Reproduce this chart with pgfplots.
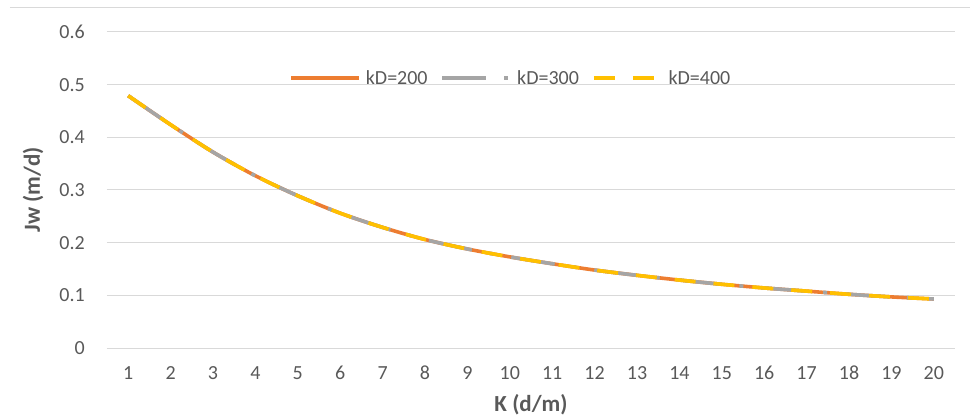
\documentclass[border=0pt]{standalone}
\usepackage{pgfplots}
\pgfplotsset{compat=1.18}
\usepackage{pgfplotstable}
\usepackage{fontspec}
\setmainfont{Carlito}
\definecolor{cor}{HTML}{ED7D31}
\definecolor{cgr}{HTML}{A5A5A5}
\definecolor{cye}{HTML}{FFC000}
\definecolor{txt}{HTML}{595959}
\definecolor{gridc}{HTML}{D9D9D9}

\pgfplotstableread{
K jw
1 0.479
2 0.424
3 0.372
4 0.327
5 0.289
6 0.256
7 0.229
8 0.206
9 0.188
10 0.173
11 0.160
12 0.148
13 0.138
14 0.129
15 0.121
16 0.114
17 0.108
18 0.102
19 0.097
20 0.093
}\dataA
\pgfplotstableread{
K jw
1 0.479
2 0.424
3 0.372
4 0.327
5 0.289
6 0.256
7 0.229
8 0.206
9 0.188
10 0.173
11 0.160
12 0.148
13 0.138
14 0.129
15 0.121
16 0.114
17 0.108
18 0.102
19 0.097
20 0.093
}\dataB
\pgfplotstableread{
K jw
1 0.479
2 0.424
3 0.372
4 0.327
5 0.289
6 0.256
7 0.229
8 0.206
9 0.188
10 0.173
11 0.160
12 0.148
13 0.138
14 0.129
15 0.121
16 0.114
17 0.108
18 0.102
19 0.097
20 0.093
}\dataC

\begin{document}
\begin{tikzpicture}
\begin{axis}[
  scale only axis,
  width=848bp, height=316bp,
  xmin=0.5, xmax=20.5, ymin=0, ymax=0.6,
  xtick={1,...,20},
  ytick={0,0.1,0.2,0.3,0.4,0.5,0.6},
  ymajorgrids,
  major grid style={gridc, line width=1bp},
  axis line style={draw=none},
  major tick style={draw=none},
  /pgf/number format/assume math mode=true,
  yticklabel style={/pgf/number format/fixed, /pgf/number format/precision=1},
  tick label style={font=\fontsize{20bp}{24bp}\selectfont, text=txt, inner sep=0pt},
  yticklabel shift=22bp,
  xticklabel shift=18bp,
  every axis y label/.style={at={(axis description cs:-0.0873,0.5)}, rotate=90, anchor=center},
  every axis x label/.style={at={(axis description cs:0.5,-0.18)}, anchor=center},
  label style={font=\bfseries\fontsize{23bp}{26bp}\selectfont, text=txt},
  xlabel={K (d/m)},
  ylabel={Jw (m/d)},
  legend columns=3,
  legend style={at={(axis description cs:0.475,0.854)}, anchor=center, draw=none, fill=none,
    font=\fontsize{20bp}{24bp}\selectfont, text=txt,
    nodes={inner sep=0pt},
    /tikz/every odd column/.append style={column sep=5bp},
    /tikz/every even column/.append style={column sep=13bp}},
  legend image code/.code={\draw[#1] (0bp,0bp) -- (68bp,0bp);},
]
\addplot[cor, line width=3.6bp, smooth] table[x=K, y=jw] {\dataA};
\addlegendentry{kD=200}
\addplot[cgr, line width=3.6bp, smooth, dash pattern=on 44bp off 18bp on 4bp off 18bp] table[x=K, y=jw] {\dataB};
\addlegendentry{kD=300}
\addplot[cye, line width=3.6bp, smooth, dash pattern=on 21bp off 18bp] table[x=K, y=jw] {\dataC};
\addlegendentry{kD=400}
\end{axis}
\draw[gridc, line width=1bp] ([shift={(-97bp,24bp)}]current axis.north west) -- ([shift={(15bp,24bp)}]current axis.north east);
\pgfresetboundingbox
\path[use as bounding box] ([shift={(-107bp,-71bp)}]current axis.south west) rectangle ([shift={(16bp,32bp)}]current axis.north east);
\end{tikzpicture}
\end{document}
